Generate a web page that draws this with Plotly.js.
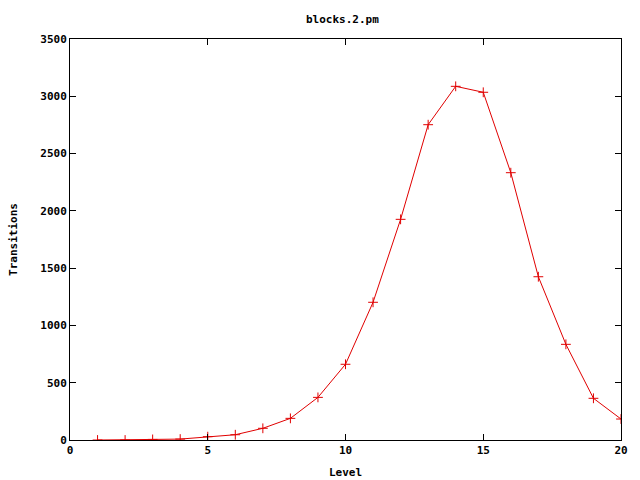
<!DOCTYPE html>
<html><head><meta charset="utf-8">
<script src="https://cdn.plot.ly/plotly-3.0.1.min.js"></script>
<style>html,body{margin:0;padding:0;background:#fff}</style>
</head><body>
<div id="chart" style="width:640px;height:480px"></div>
<script>
const levels = [1, 2, 3, 4, 5, 6, 7, 8, 9, 10, 11, 12, 13, 14, 15, 16, 17, 18, 19, 20];
const transitions = [0, 0, 5, 8, 29, 46, 102, 189, 372, 661, 1202, 1926, 2752, 3087, 3035, 2333, 1425, 835, 364, 183];
const xTicks = [0, 5, 10, 15, 20];
const yTicks = [0, 500, 1000, 1500, 2000, 2500, 3000, 3500];

const fnt = {family: 'DejaVu Sans Mono, monospace', size: 11, color: '#000', weight: 'bold'};

Plotly.newPlot('chart', [{
  x: levels, y: transitions, type: 'scatter', mode: 'lines+markers',
  line: {color: '#e00000', width: 1},
  marker: {symbol: 'cross-thin-open', size: 7, line: {color: '#e00000', width: 1}, color: '#e00000'},
  showlegend: false
}], {
  width: 640, height: 480,
  paper_bgcolor: '#fff', plot_bgcolor: '#fff',
  margin: {l: 70, r: 19, t: 39, b: 40},
  title: {text: 'blocks.2.pm', font: fnt, x: 0.535, xanchor: 'center', y: 1 - 19/480, yanchor: 'middle', yref: 'container'},
  xaxis: {
    range: [0, 20], tickvals: xTicks, ticktext: xTicks.map(String),
    ticks: 'inside', ticklen: 6, tickcolor: '#000', tickwidth: 1,
    showline: true, linecolor: '#000', linewidth: 1, mirror: 'ticks',
    showgrid: false, zeroline: false, tickfont: fnt,
    title: {text: 'Level', font: fnt, standoff: 12}
  },
  yaxis: {
    range: [0, 3500], tickvals: yTicks, ticktext: yTicks.map(String),
    ticks: 'inside', ticklen: 6, tickcolor: '#000', tickwidth: 1,
    showline: true, linecolor: '#000', linewidth: 1, mirror: 'ticks',
    showgrid: false, zeroline: false, tickfont: fnt,
    title: {text: 'Transitions', font: fnt, standoff: 20}
  }
}, {displayModeBar: false, staticPlot: true});
</script>
</body></html>
